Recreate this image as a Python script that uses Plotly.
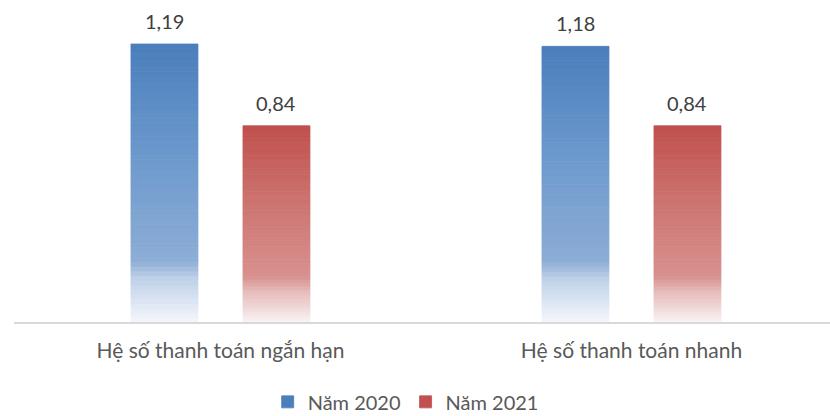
import plotly.graph_objects as go

categories = ["Hệ số thanh toán ngắn hạn", "Hệ số thanh toán nhanh"]
series_names = ["Năm 2020", "Năm 2021"]
values_2020 = [1.19, 1.18]
values_2021 = [0.84, 0.84]

FONT = "Lato"
N_SEG = 60
BAR_W = 0.163
OFFSETS = [-0.2178, 0.0547]

# gradient stops (fraction from top of bar, rgb)
GRAD = {
    "Năm 2020": [(0.0, (74, 126, 187)), (0.35, (104, 150, 203)), (0.78, (140, 173, 214)),
                 (0.84, (190, 208, 232)), (1.0, (244, 247, 252))],
    "Năm 2021": [(0.0, (192, 80, 77)), (0.35, (203, 112, 109)), (0.77, (216, 145, 143)),
                 (0.84, (229, 186, 185)), (1.0, (250, 243, 243))],
}


def color_at(stops, t):
    for (t0, c0), (t1, c1) in zip(stops, stops[1:]):
        if t0 <= t <= t1:
            f = (t - t0) / (t1 - t0) if t1 > t0 else 0
            c = [round(a + (b - a) * f) for a, b in zip(c0, c1)]
            return "rgb(%d,%d,%d)" % tuple(c)
    return "rgb(%d,%d,%d)" % stops[-1][1]


fig = go.Figure()
for name, vals, off in zip(series_names, [values_2020, values_2021], OFFSETS):
    stops = GRAD[name]
    for k in range(N_SEG):
        t = 1 - (k + 0.5) / N_SEG
        col = color_at(stops, t)
        fig.add_trace(go.Bar(
            x=categories,
            y=[v / N_SEG for v in vals],
            base=[v * k / N_SEG for v in vals],
            offset=off, width=BAR_W,
            marker=dict(color=col, line=dict(width=0.8, color=col)),
            name=name, legendgroup=name,
            showlegend=(k == N_SEG - 1),
            hoverinfo="skip",
        ))
    for i, v in enumerate(vals):
        fig.add_annotation(
            x=i + off + BAR_W / 2, y=v, xref="x", yref="y",
            text=f"{v:.2f}".replace(".", ","), showarrow=False,
            yanchor="bottom", yshift=9,
            font=dict(family=FONT, size=20, color="#404040"),
        )

fig.update_layout(
    width=830, height=416,
    margin=dict(l=14, r=0, t=10, b=94, autoexpand=False),
    barmode="overlay",
    plot_bgcolor="white", paper_bgcolor="white",
    font=dict(family=FONT, color="#595959"),
    showlegend=True,
    legend=dict(orientation="h", x=0.48, xanchor="center",
                y=-0.256, yanchor="middle",
                font=dict(family=FONT, size=20, color="#595959"),
                traceorder="normal"),
    xaxis=dict(type="category", range=[-0.5024, 1.4830], showline=True,
               linecolor="#d9d9d9", linewidth=2, showgrid=False, ticks="",
               tickangle=0, automargin=False,
               tickfont=dict(family=FONT, size=21, color="#595959"),
               ticklabelstandoff=9, zeroline=False),
    yaxis=dict(range=[0, 1.3356], visible=False, showgrid=False, zeroline=False),
)

fig.write_html("out.html")
